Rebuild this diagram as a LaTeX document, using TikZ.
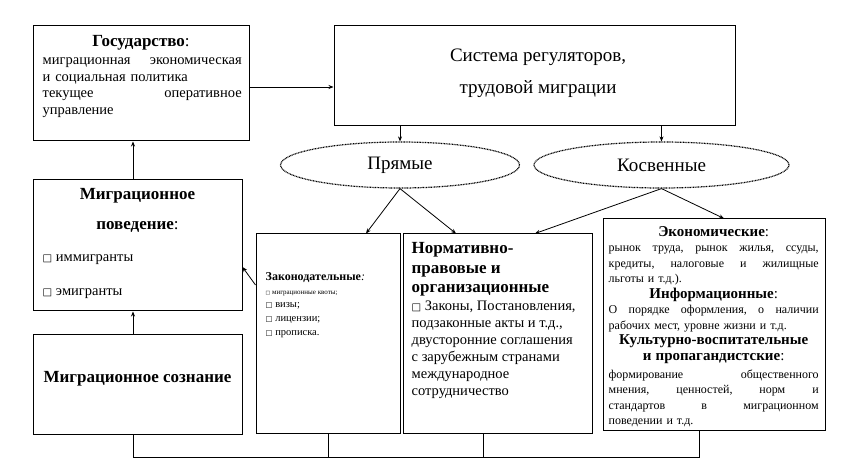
\documentclass[tikz,border=0pt]{standalone}
\usepackage{fontspec}
\setmainfont{Liberation Serif}
\newfontfamily\symfont{DejaVu Sans}
\usetikzlibrary{arrows.meta, positioning, shapes}
\setlength\parindent{0pt}
\newcommand\fs[2]{\fontsize{#1}{#2}\selectfont}
\newcommand\sqbox{{\symfont\scalebox{.7}{□}}}

\begin{document}
\begin{tikzpicture}[x=1pt, y=-1pt, >={Stealth[length=5pt,width=4pt]},
  box/.style={draw, line width=1pt, inner sep=0pt},
  oval/.style={draw, ellipse, line width=1.2pt, dash pattern=on 0.9pt off 0.7pt, inner sep=0pt, minimum height=46pt, font=\fs{19}{22}},
  txt/.style={inner sep=0pt, align=left},
  link/.style={->, line width=0.8pt}]
\useasboundingbox (0,0) rectangle (844,473);

% boxes
\node[box, minimum width=216pt, minimum height=115pt] (gov) at (141,83.5) {};
\node[box, minimum width=401pt, minimum height=100pt] (sys) at (534.5,76) {};
\node[oval, minimum width=239pt] (pr) at (400,165) {Прямые};
\node[oval, minimum width=255pt] (kos) at (661.5,165) {Косвенные};
\node[box, minimum width=209pt, minimum height=131pt] (beh) at (137.5,245.5) {};
\node[box, minimum width=209pt, minimum height=100pt] (con) at (137.5,384) {};
\node[box, minimum width=144pt, minimum height=199pt] (zak) at (328,333.5) {};
\node[box, minimum width=189pt, minimum height=199pt] (norm) at (497.5,333.5) {};
\node[box, minimum width=222pt, minimum height=211pt] (ekon) at (714,324.5) {};

% texts
\node[txt, font=\fs{17}{20.4}, below=6.8pt of gov.north] (govhead) {\strut\textbf{Государство}:};
\node[txt, text width=199pt, font=\fs{14.5}{16.5}, below right=27.4pt and 10pt of gov.north west] (govtext)
  {\strut миграционная\hfill экономическая\\ и социальная политика\\ текущее\hfill оперативное\\ управление};
\node[txt, align=center, font=\fs{19}{32}, below=13.3pt of sys.north, xshift=3.5pt] (systext)
  {\strut Система регуляторов,\\ трудовой миграции};
\node[txt, align=center, font=\fs{17}{30}, below=-0.9pt of beh.north] (behhead)
  {\strut\textbf{Миграционное}\\ \textbf{поведение}:};
\node[txt, font=\fs{14.5}{34}, below right=58.1pt and 10pt of beh.north west] (behtext)
  {\strut\sqbox\ иммигранты\\ \sqbox\ эмигранты};
\node[txt, font=\fs{17}{20.4}\bfseries, below=34.8pt of con.north] (context) {\strut Миграционное сознание};
\node[txt, font=\fs{12}{13.8}, below right=36.9pt and 10pt of zak.north west] (zaktext)
  {\strut\textbf{Законодательные}\textit{:}\\
   {\fs{7}{13.8}\sqbox\ миграционные квоты;}\\
   {\fs{10.5}{13.8}\sqbox\ визы;}\\
   {\fs{10.5}{13.8}\sqbox\ лицензии;}\\
   {\fs{10.5}{13.8}\sqbox\ прописка.}};
\node[txt, font=\fs{17}{19.5}\bfseries, below right=6.5pt and 9pt of norm.north west] (normhead)
  {\strut Нормативно-\\ правовые и\\ организационные};
\node[txt, font=\fs{14.5}{17}, below right=65pt and 9pt of norm.north west] (normtext)
  {\strut\sqbox\ Законы, Постановления,\\ подзаконные акты и т.д.,\\ двусторонние соглашения\\
   с зарубежным странами\\ международное\\ сотрудничество};
\node[txt, text width=210pt, font=\fs{12}{15.5}, below right=6.6pt and 6pt of ekon.north west] (ekontext)
  {{\centering\fs{15}{15.5}\strut\textbf{Экономические}:\par}
   рынок\hfill труда,\hfill рынок\hfill жилья,\hfill ссуды,\\
   кредиты,\hfill налоговые\hfill и\hfill жилищные\\
   льготы и т.д.).\par
   {\centering\fs{15}{15.5}\textbf{Информационные}:\par}
   О\hfill порядке\hfill оформления,\hfill о\hfill наличии\\
   рабочих мест, уровне жизни и т.д.\par
   {\centering\fs{15}{15.5}\textbf{Культурно-воспитательные}\\ \textbf{и пропагандистские}:\par}
   \vspace{2.5pt}
   формирование\hfill общественного\\
   мнения,\hfill ценностей,\hfill норм\hfill и\\
   стандартов\hfill в\hfill миграционном\\
   поведении и т.д.};

% connectors
\draw[link] ([yshift=-3.5pt]gov.east) -- ([yshift=-3.5pt]gov.east -| sys.west);
\draw[link] (sys.south -| pr.north) -- (pr.north);
\draw[link] (sys.south -| kos.north) -- (kos.north);
\draw[link] (pr.south) -- ([xshift=38pt]zak.north);
\draw[link] (pr.south) -- ([xshift=-41.5pt]norm.north);
\draw[link] (kos.south) -- ([xshift=37.5pt]norm.north);
\draw[link] (kos.south) -- ([xshift=10pt]ekon.north);
\draw[link] ([yshift=48.5pt]zak.west) -- ([yshift=-21.5pt]beh.east);
\draw[link] ([xshift=-4.5pt]beh.north) -- ([xshift=-4.5pt]beh.north |- gov.south);
\draw[link] ([xshift=-4.5pt]con.north) -- ([xshift=-4.5pt]con.north |- beh.south);

\coordinate (bus) at (0,457);
\draw[line width=0.8pt] ([xshift=-4.5pt]con.south) |- ([xshift=-15pt]ekon.south |- bus) -- ([xshift=-15pt]ekon.south);
\draw[line width=0.8pt] (zak.south) -- (zak.south |- bus);
\draw[line width=0.8pt] ([xshift=-14.5pt]norm.south) -- ([xshift=-14.5pt]norm.south |- bus);

\end{tikzpicture}
\end{document}
